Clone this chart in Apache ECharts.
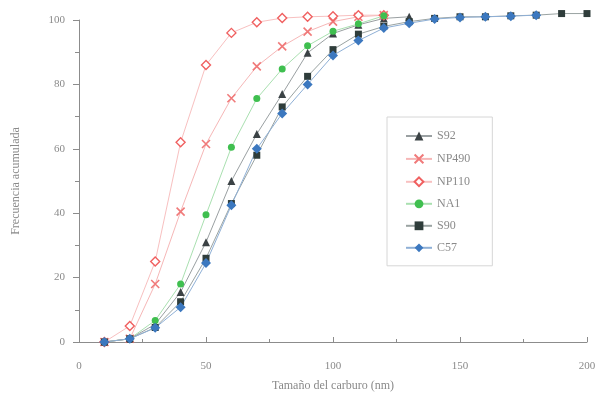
<!DOCTYPE html>
<html>
<head>
<meta charset="utf-8">
<script src="https://cdn.jsdelivr.net/npm/echarts@6/dist/echarts.min.js"></script>
<style>
  html, body { margin: 0; padding: 0; background: #fff; }
  #chart { width: 610px; height: 397px; }
</style>
</head>
<body>
<div id="chart"></div>
<script>
// Carbide size (nm) and cumulative frequency (%) per sample
const sizesLong = [10, 20, 30, 40, 50, 60, 70, 80, 90, 100, 110, 120, 130, 140, 150, 160, 170, 180, 190, 200];

const s92    = [0, 1, 5.5, 15.5, 31, 50, 64.6, 77, 89.8, 95.8, 98.5, 100.5, 101];
const np490  = [0, 1, 18, 40.5, 61.5, 75.7, 85.6, 91.8, 96.4, 99.5, 101, 101.5];
const np110  = [0, 5, 25, 62, 86, 96, 99.3, 100.6, 101, 101.2, 101.5, 101.5];
const na1    = [0, 1, 6.7, 18, 39.5, 60.5, 75.6, 84.8, 92, 96.5, 98.8, 101.3];
const s90    = [0, 1, 4.5, 12.5, 26, 43, 58, 73, 82.5, 90.8, 95.6, 98, 99.5, 100.5, 101, 101, 101.3, 101.5, 102, 102];
const c57    = [0, 1, 4.4, 10.8, 24.5, 42.5, 60, 71, 80, 89, 93.6, 97.5, 99, 100.3, 100.8, 101, 101.2, 101.5];

const xTicks = [0, 50, 100, 150, 200];
const yTicks = [0, 20, 40, 60, 80, 100];

function pairs(values) {
  return values.map((v, i) => [sizesLong[i], v]);
}

const serif = 'Liberation Serif';
const textGray = '#8a8a8a';

function makeSeries(name, values, symbol, color, lineColor, opts) {
  return Object.assign({
    name: name,
    type: 'line',
    data: pairs(values),
    symbol: symbol,
    symbolSize: 8,
    clip: false,
    itemStyle: { color: color },
    lineStyle: { color: lineColor, width: 1 },
    emphasis: { disabled: true }
  }, opts || {});
}

const chart = echarts.init(document.getElementById('chart'), null, { renderer: 'canvas' });

chart.setOption({
  animation: false,
  backgroundColor: '#ffffff',
  grid: { left: 79, right: 23, top: 20, bottom: 52 },
  legend: {
    orient: 'vertical',
    left: 387,
    top: 117,
    width: 108,
    padding: [13, 22, 12, 18],
    itemGap: 10,
    itemWidth: 26,
    itemHeight: 11,
    borderColor: '#d6d6d6',
    borderWidth: 1,
    textStyle: { fontFamily: serif, fontSize: 12, color: '#8a8a8a' },
    data: ['S92', 'NP490', 'NP110', 'NA1', 'S90', 'C57']
  },
  xAxis: {
    type: 'value',
    min: 0,
    max: 200,
    interval: 50,
    name: 'Tamaño del carburo (nm)',
    nameLocation: 'middle',
    nameGap: 38,
    nameTextStyle: { fontFamily: serif, fontSize: 12, color: textGray },
    axisLine: { show: true, lineStyle: { color: '#8c8c8c', width: 1 } },
    axisTick: { show: true, inside: true, length: 5, lineStyle: { color: '#8c8c8c' } },
    minorTick: { show: true, splitNumber: 2, length: 3, lineStyle: { color: '#8c8c8c' } },
    axisLabel: {
      fontFamily: serif, fontSize: 11, color: textGray, margin: 19,
      formatter: v => (xTicks.includes(v) ? String(v) : '')
    },
    splitLine: { show: false }
  },
  yAxis: {
    type: 'value',
    min: 0,
    max: 100,
    interval: 20,
    name: 'Frecuencia acumulada',
    nameLocation: 'middle',
    nameGap: 57,
    nameTextStyle: { fontFamily: serif, fontSize: 12, color: textGray },
    axisLine: { show: true, lineStyle: { color: '#8c8c8c', width: 1 } },
    axisTick: { show: true, length: 6, lineStyle: { color: '#8c8c8c' } },
    minorTick: { show: true, splitNumber: 2, length: 4, lineStyle: { color: '#8c8c8c' } },
    axisLabel: {
      fontFamily: serif, fontSize: 11, color: textGray, margin: 14,
      formatter: v => (yTicks.includes(v) ? String(v) : '')
    },
    splitLine: { show: false }
  },
  series: [
    makeSeries('S92', s92, 'triangle', '#3b4245', '#9aa0a2'),
    makeSeries('NP490', np490, 'path://M0,0 L10,10 M10,0 L0,10', '#f07a7a', '#f6b7b7', {
      itemStyle: { color: 'none', borderColor: '#f07a7a', borderWidth: 1.6 }
    }),
    makeSeries('NP110', np110, 'diamond', '#ffffff', '#f8c0c0', {
      itemStyle: { color: '#ffffff', borderColor: '#f06060', borderWidth: 1.4 },
      symbolSize: 9
    }),
    makeSeries('NA1', na1, 'circle', '#3fbf4f', '#a9e0b0', { symbolSize: 7 }),
    makeSeries('S90', s90, 'rect', '#2f3d3b', '#9aa3a2', { symbolSize: 7 }),
    makeSeries('C57', c57, 'diamond', '#3c78bf', '#8fb0d6', { symbolSize: 10 })
  ]
});
</script>
</body>
</html>
